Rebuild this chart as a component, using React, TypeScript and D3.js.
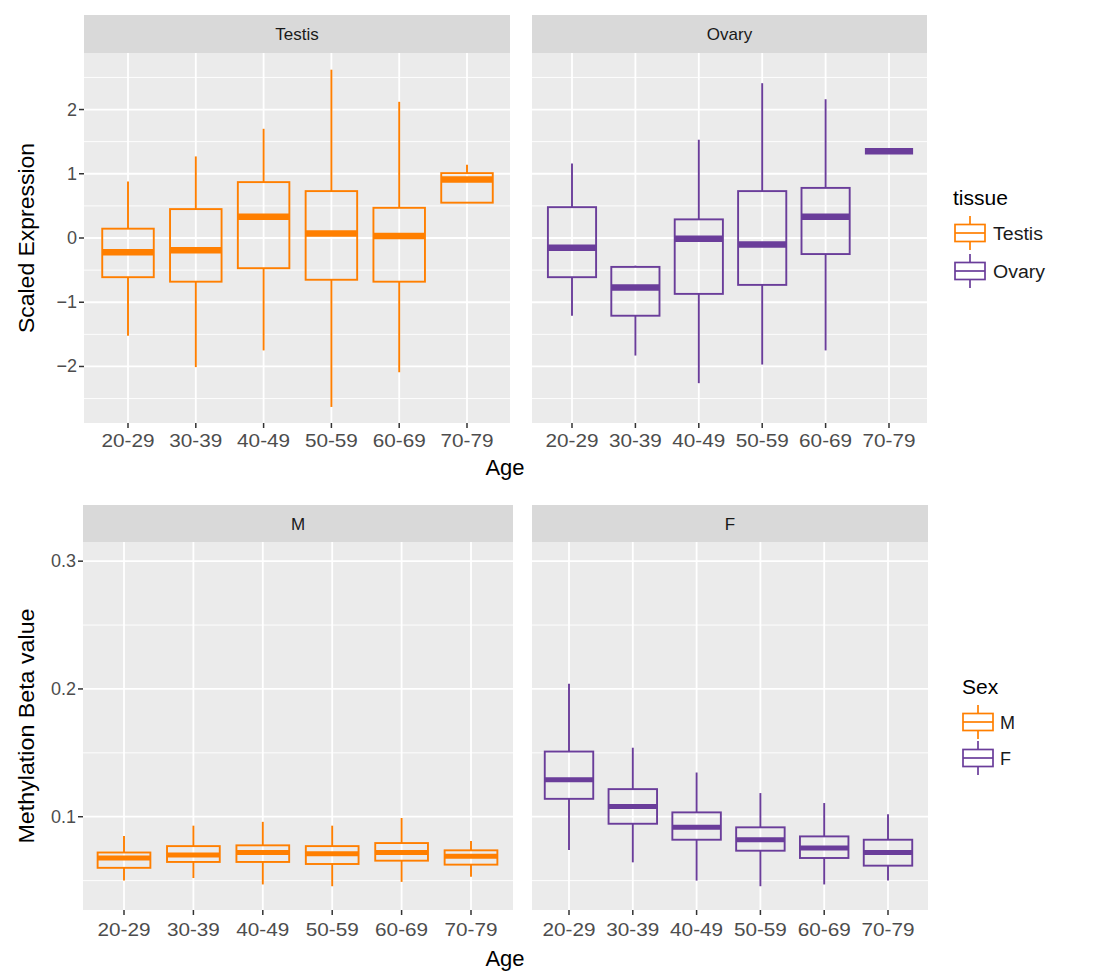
import React from "react";
import * as d3 from "d3";

const AGES = ["20-29", "30-39", "40-49", "50-59", "60-69", "70-79"];

// Top: Scaled Expression
const testisLow = [-1.52, -2.01, -1.75, -2.63, -2.09, 0.55];
const testisQ1 = [-0.61, -0.68, -0.47, -0.65, -0.68, 0.55];
const testisMed = [-0.22, -0.19, 0.33, 0.07, 0.03, 0.91];
const testisQ3 = [0.145, 0.45, 0.87, 0.73, 0.47, 1.01];
const testisHigh = [0.88, 1.27, 1.7, 2.62, 2.12, 1.14];

const ovaryLow = [-1.21, -1.83, -2.26, -1.97, -1.75, 1.33];
const ovaryQ1 = [-0.61, -1.21, -0.87, -0.73, -0.25, 1.35];
const ovaryMed = [-0.15, -0.77, -0.01, -0.1, 0.33, 1.35];
const ovaryQ3 = [0.48, -0.45, 0.29, 0.73, 0.78, 1.35];
const ovaryHigh = [1.16, -0.43, 1.53, 2.41, 2.16, 1.37];

// Bottom: Methylation Beta value
const mLow = [0.05, 0.052, 0.047, 0.0456, 0.049, 0.053];
const mQ1 = [0.06, 0.0646, 0.0646, 0.063, 0.0656, 0.0625];
const mMed = [0.0677, 0.07, 0.072, 0.071, 0.072, 0.069];
const mQ3 = [0.072, 0.077, 0.0776, 0.077, 0.0794, 0.0737];
const mHigh = [0.085, 0.093, 0.096, 0.093, 0.099, 0.081];

const fLow = [0.074, 0.0643, 0.05, 0.0456, 0.047, 0.05];
const fQ1 = [0.114, 0.0945, 0.082, 0.0734, 0.0677, 0.0617];
const fMed = [0.129, 0.108, 0.0917, 0.082, 0.0755, 0.072];
const fQ3 = [0.151, 0.1216, 0.1034, 0.0917, 0.0846, 0.082];
const fHigh = [0.204, 0.154, 0.1346, 0.1185, 0.1107, 0.102];

const topTicks = [-2, -1, 0, 1, 2];
const topMinor = [-2.5, -1.5, -0.5, 0.5, 1.5, 2.5];
const botTicks = [0.1, 0.2, 0.3];
const botMinor = [0.05, 0.15, 0.25];

const ORANGE = "#FF7F00";
const PURPLE = "#6A3D9A";
const FONT = "'Liberation Sans', Arial, Helvetica, sans-serif";

function fmtTop(v) {
  return v < 0 ? "\u2212" + Math.abs(v) : String(v);
}

function Panel({ x0, x1, top, stripH, bottom, xr, y, ticks, minor, label, color, low, q1, med, q3, high, medW, showY, fmt, tickLabelY }) {
  const xs = d3.scalePoint().domain(AGES).range(xr).padding(0);
  const step = xs.step();
  const bw = step * 0.76;
  const pTop = top + stripH;
  return (
    <g>
      <rect x={x0} y={top} width={x1 - x0} height={stripH} fill="#D9D9D9" />
      <text x={(x0 + x1) / 2} y={top + stripH / 2 + 6} textAnchor="middle" fontSize={17} fill="#1A1A1A" fontFamily={FONT}>{label}</text>
      <rect x={x0} y={pTop} width={x1 - x0} height={bottom - pTop} fill="#EBEBEB" />
      {minor.map((v) => (
        <line key={"mn" + v} x1={x0} x2={x1} y1={y(v)} y2={y(v)} stroke="#FFFFFF" strokeWidth={0.9} />
      ))}
      {ticks.map((v) => (
        <line key={"mj" + v} x1={x0} x2={x1} y1={y(v)} y2={y(v)} stroke="#FFFFFF" strokeWidth={1.8} />
      ))}
      {AGES.map((a) => (
        <line key={"vx" + a} x1={xs(a)} x2={xs(a)} y1={pTop} y2={bottom} stroke="#FFFFFF" strokeWidth={1.8} />
      ))}
      {AGES.map((a, i) => {
        const cx = xs(a);
        return (
          <g key={"b" + a}>
            <line x1={cx} x2={cx} y1={y(high[i])} y2={y(q3[i])} stroke={color} strokeWidth={1.9} />
            <line x1={cx} x2={cx} y1={y(q1[i])} y2={y(low[i])} stroke={color} strokeWidth={1.9} />
            <rect x={cx - bw / 2} y={y(q3[i])} width={bw} height={Math.max(0, y(q1[i]) - y(q3[i]))} fill="none" stroke={color} strokeWidth={1.9} />
            <line x1={cx - bw / 2} x2={cx + bw / 2} y1={y(med[i])} y2={y(med[i])} stroke={color} strokeWidth={medW} />
          </g>
        );
      })}
      {AGES.map((a) => (
        <g key={"xt" + a}>
          <line x1={xs(a)} x2={xs(a)} y1={bottom} y2={bottom + 5} stroke="#333333" strokeWidth={1.5} />
          <text x={xs(a)} y={tickLabelY} textAnchor="middle" fontSize={18} textLength={53} lengthAdjust="spacingAndGlyphs" fill="#4D4D4D" fontFamily={FONT}>{a}</text>
        </g>
      ))}
      {showY && ticks.map((v) => (
        <g key={"yt" + v}>
          <line x1={x0 - 5} x2={x0} y1={y(v)} y2={y(v)} stroke="#333333" strokeWidth={1.5} />
          <text x={x0 - 7} y={y(v) + 6} textAnchor="end" fontSize={18} fill="#4D4D4D" fontFamily={FONT}>{fmt(v)}</text>
        </g>
      ))}
    </g>
  );
}

function LegendKey({ x, y, color }) {
  const w = 30, h = 34;
  const cx = x + w / 2;
  return (
    <g>
      <line x1={cx} x2={cx} y1={y} y2={y + h} stroke={color} strokeWidth={1.7} />
      <rect x={x} y={y + h * 0.25} width={w} height={h * 0.5} fill="#FFFFFF" stroke={color} strokeWidth={1.7} />
      <line x1={x} x2={x + w} y1={y + h / 2} y2={y + h / 2} stroke={color} strokeWidth={1.7} />
    </g>
  );
}

export default function App() {
  const yTop = d3.scaleLinear().domain([-2.88, 2.88]).range([423, 53]);
  const yBot = d3.scaleLinear().domain([0.027, 0.315]).range([910, 542]);
  const fmtBot = (v) => d3.format(".1f")(v);
  return (
    <svg width={1094} height={971} style={{ position: "absolute", left: 0, top: 0, background: "#FFFFFF" }}>
      <rect x={0} y={0} width={1094} height={971} fill="#FFFFFF" />
      {/* top row */}
      <Panel x0={84} x1={510} top={15} stripH={38} bottom={423} xr={[128, 467]} y={yTop} ticks={topTicks} minor={topMinor}
        label="Testis" color={ORANGE} low={testisLow} q1={testisQ1} med={testisMed} q3={testisQ3} high={testisHigh}
        medW={6.5} showY={true} fmt={fmtTop} tickLabelY={447} />
      <Panel x0={532} x1={927} top={15} stripH={38} bottom={423} xr={[572, 889]} y={yTop} ticks={topTicks} minor={topMinor}
        label="Ovary" color={PURPLE} low={ovaryLow} q1={ovaryQ1} med={ovaryMed} q3={ovaryQ3} high={ovaryHigh}
        medW={6.5} showY={false} fmt={fmtTop} tickLabelY={447} />
      <text x={505} y={475} textAnchor="middle" fontSize={22} fill="#000" fontFamily={FONT}>Age</text>
      <text transform="translate(34,238) rotate(-90)" textAnchor="middle" fontSize={22} textLength={190} lengthAdjust="spacingAndGlyphs" fill="#000" fontFamily={FONT}>Scaled Expression</text>
      <text x={953} y={205} fontSize={21} fill="#000" fontFamily={FONT}>tissue</text>
      <LegendKey x={955} y={216} color={ORANGE} />
      <text x={993} y={240} fontSize={18} textLength={50} lengthAdjust="spacingAndGlyphs" fill="#1A1A1A" fontFamily={FONT}>Testis</text>
      <LegendKey x={955} y={254} color={PURPLE} />
      <text x={993} y={278} fontSize={18} textLength={52} lengthAdjust="spacingAndGlyphs" fill="#1A1A1A" fontFamily={FONT}>Ovary</text>

      {/* bottom row */}
      <Panel x0={83} x1={513} top={505} stripH={37} bottom={910} xr={[124, 471]} y={yBot} ticks={botTicks} minor={botMinor}
        label="M" color={ORANGE} low={mLow} q1={mQ1} med={mMed} q3={mQ3} high={mHigh}
        medW={5} showY={true} fmt={fmtBot} tickLabelY={936} />
      <Panel x0={532} x1={928} top={505} stripH={37} bottom={910} xr={[569, 888]} y={yBot} ticks={botTicks} minor={botMinor}
        label="F" color={PURPLE} low={fLow} q1={fQ1} med={fMed} q3={fQ3} high={fHigh}
        medW={5} showY={false} fmt={fmtBot} tickLabelY={936} />
      <text x={505} y={966} textAnchor="middle" fontSize={22} fill="#000" fontFamily={FONT}>Age</text>
      <text transform="translate(34,726) rotate(-90)" textAnchor="middle" fontSize={22} textLength={235} lengthAdjust="spacingAndGlyphs" fill="#000" fontFamily={FONT}>Methylation Beta value</text>
      <text x={962} y={694} fontSize={21} fill="#000" fontFamily={FONT}>Sex</text>
      <LegendKey x={963} y={705} color={ORANGE} />
      <text x={1000} y={729} fontSize={18} fill="#1A1A1A" fontFamily={FONT}>M</text>
      <LegendKey x={963} y={741} color={PURPLE} />
      <text x={1000} y={765} fontSize={18} fill="#1A1A1A" fontFamily={FONT}>F</text>
    </svg>
  );
}
